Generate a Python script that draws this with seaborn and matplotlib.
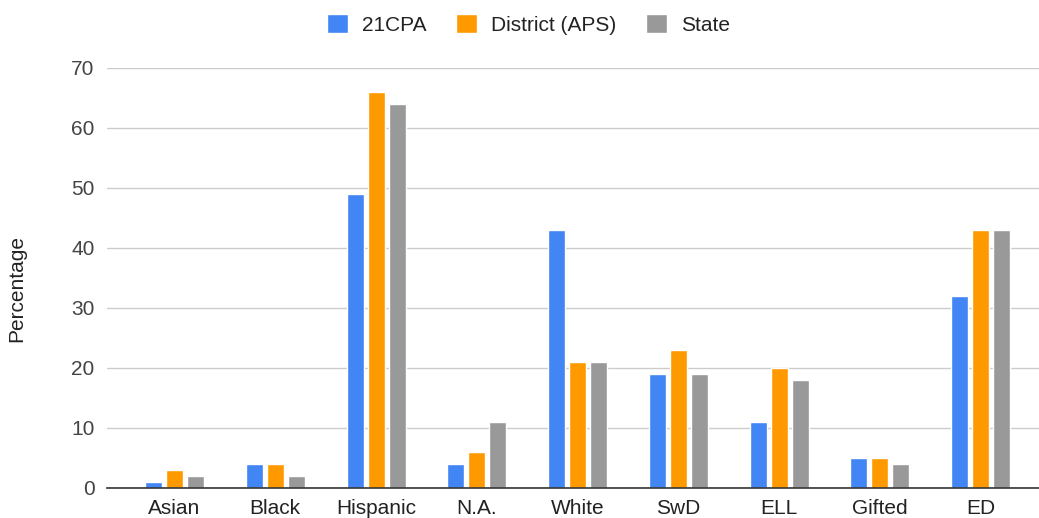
import pandas as pd
import seaborn as sns
import matplotlib.pyplot as plt

# data
categories = ['Asian', 'Black', 'Hispanic', 'N.A.', 'White', 'SwD', 'ELL', 'Gifted', 'ED']
cpa21 = [1, 4, 49, 4, 43, 19, 11, 5, 32]
district = [3, 4, 66, 6, 21, 23, 20, 5, 43]
state = [2, 2, 64, 11, 21, 19, 18, 4, 43]
series = ['21CPA', 'District (APS)', 'State']
colors = ['#4285F4', '#FF9900', '#999999']

df = pd.DataFrame({'Group': categories, series[0]: cpa21, series[1]: district, series[2]: state})
long_df = df.melt(id_vars='Group', var_name='Series', value_name='Percentage')

sns.set_style('white')
plt.rcParams['font.family'] = ['Liberation Sans', 'DejaVu Sans']

fig = plt.figure(figsize=(10.39, 5.18), dpi=100)
ax = fig.add_axes([0.103, 0.058, 0.897, 0.811])

sns.barplot(data=long_df, x='Group', y='Percentage', hue='Series', hue_order=series,
            palette=colors, width=0.625, gap=0.19, saturation=1, ax=ax, legend=True)

ax.set_ylim(0, 70)
ax.set_xlim(-0.67, 8.58)
ax.set_yticks(range(0, 71, 10))
ax.yaxis.grid(True, color='#cccccc', linewidth=1)
ax.set_axisbelow(True)
for s in ['top', 'right', 'left']:
    ax.spines[s].set_visible(False)
ax.spines['bottom'].set_color('#333333')
ax.spines['bottom'].set_linewidth(1.2)
ax.tick_params(axis='y', length=0, labelsize=15, colors='#444444', pad=9)
ax.tick_params(axis='x', length=0, labelsize=15, colors='#222222', pad=8)
ax.set_xlabel('')
ax.set_ylabel('Percentage', fontsize=15, color='#222222')
ax.yaxis.set_label_coords(-0.087, 0.474)

handles, labels = ax.get_legend_handles_labels()
ax.legend(handles, labels, ncol=3, loc='center', bbox_to_anchor=(0.5087, 1 - 24.5 / 518),
          bbox_transform=fig.transFigure, frameon=False, fontsize=15,
          handlelength=1.0, handleheight=1.0, handletextpad=0.7, columnspacing=1.4,
          labelcolor='#222222')

plt.savefig('out.png', dpi=100)
